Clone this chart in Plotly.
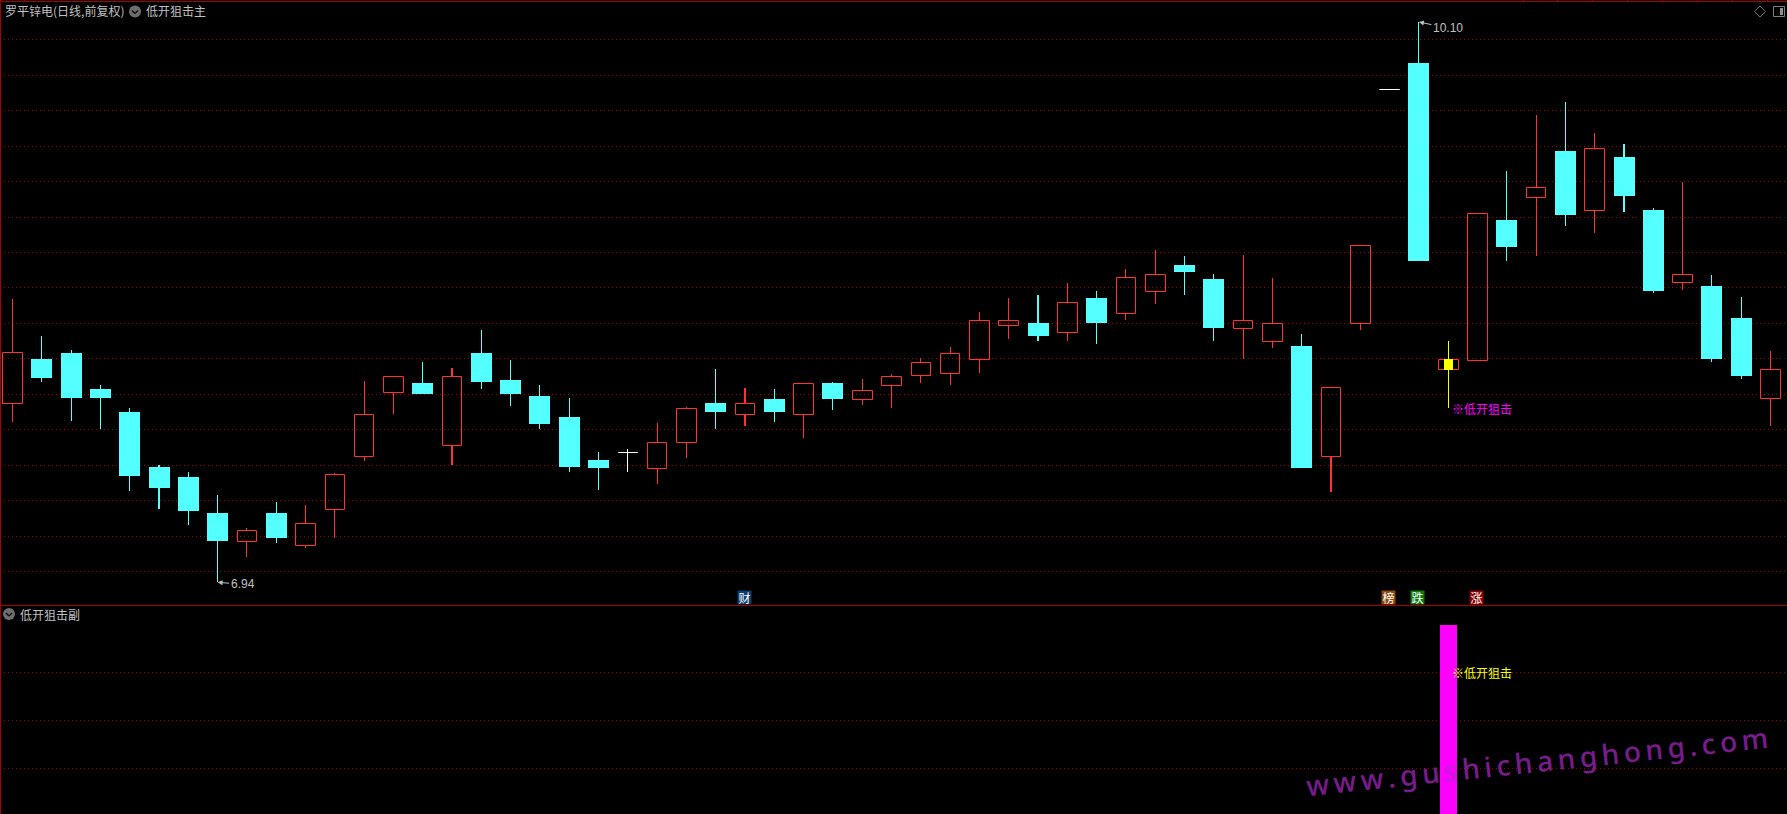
import plotly.graph_objects as go

# ---------- data (prices) ----------
opens = [7.947,8.199,8.233,8.03,7.90,7.59,7.534,7.331,7.169,7.331,7.146,7.349,7.648,8.009,8.064,7.71,8.233,8.081,7.991,7.872,7.63,7.673,7.581,7.727,7.951,7.885,7.974,7.885,8.064,7.97,8.049,8.105,8.116,8.195,8.387,8.402,8.348,8.543,8.455,8.579,8.729,8.65,8.37,8.297,8.273,7.648,8.401,9.72,9.869,8.139,8.19,8.983,9.109,9.372,9.036,9.339,9.04,8.63,8.611,8.43,7.975]
highs = [8.538,8.329,8.25,8.053,7.923,7.60,7.562,7.432,7.246,7.393,7.376,7.556,8.075,8.102,8.182,8.148,8.363,8.194,8.053,7.979,7.675,7.692,7.838,7.927,8.143,8.034,8.03,8.062,8.07,8.085,8.115,8.203,8.267,8.464,8.543,8.56,8.628,8.583,8.707,8.814,8.78,8.679,8.786,8.656,8.34,8.04,8.841,9.72,10.10,8.301,9.021,9.26,9.575,9.649,9.474,9.412,9.051,9.199,8.673,8.549,8.244]
lows = [7.846,8.071,7.851,7.806,7.455,7.353,7.263,6.94,7.083,7.161,7.133,7.191,7.624,7.889,8.002,7.601,8.03,7.934,7.804,7.562,7.46,7.562,7.496,7.643,7.804,7.821,7.844,7.755,7.912,7.94,7.923,8.064,8.053,8.12,8.312,8.301,8.301,8.284,8.419,8.509,8.56,8.301,8.199,8.261,7.584,7.449,8.363,9.72,8.752,7.925,8.19,8.752,8.782,8.949,8.91,9.028,8.571,8.588,8.182,8.092,7.821]
closes = [8.237,8.092,7.979,7.979,7.539,7.472,7.342,7.173,7.233,7.19,7.273,7.549,7.887,8.102,8.002,8.103,8.07,8.002,7.833,7.59,7.584,7.673,7.729,7.921,7.90,7.949,7.90,8.062,7.974,8.023,8.102,8.181,8.231,8.418,8.418,8.329,8.519,8.402,8.66,8.677,8.69,8.374,8.418,8.401,7.584,8.04,8.841,9.72,8.752,8.199,9.021,8.831,9.168,9.011,9.388,9.119,8.583,8.677,8.199,8.103,8.141]
signal_days = [49]
sub_values = [1]
price_ticks = [7.0,7.2,7.4,7.6,7.8,8.0,8.2,8.4,8.6,8.8,9.0,9.2,9.4,9.6,9.8,10.0]
sub_ticks = [0.25,0.5,0.75]
day_tags = [(25,"财","#0b3d6e"),(47,"榜","#8a4a10"),(48,"跌","#0a7a0a"),(50,"涨","#8b0000")]
title_main = "罗平锌电(日线,前复权)"
name_main = "低开狙击主"
name_sub = "低开狙击副"
signal_text = "※低开狙击"
high_label = "10.10"
low_label = "6.94"
watermark = "www.gushichanghong.com"

# ---------- styling ----------
W, H = 1787, 814
STEP = 29.3
PRICE_PER_PX = 0.00564
RED, CYAN, WHITE, YELLOW = "#ff3232", "#54ffff", "#ffffff", "#ffff00"
GRID, BORDER = "#a00000", "#a80000"
GREY = "#c0c0c0"
FONT = "Noto Sans CJK SC, Liberation Sans, sans-serif"
BODY_T = 21 / STEP
BODY_R = 19.6 / STEP
WICK = 0.1 / STEP

n = len(opens)
days = list(range(n))

def group(idx_fn):
    return [i for i in days if idx_fn(i)]

up = group(lambda i: closes[i] > opens[i])
down = group(lambda i: closes[i] < opens[i])
flat = group(lambda i: closes[i] == opens[i])

def wick_trace(idx, color):
    xs, ys, bases = [], [], []
    for i in idx:
        top, bot = max(opens[i], closes[i]), min(opens[i], closes[i])
        if highs[i] > top:
            xs.append(i); ys.append(highs[i] - top); bases.append(top)
        if lows[i] < bot:
            xs.append(i); ys.append(bot - lows[i]); bases.append(lows[i])
    return go.Bar(x=xs, y=ys, base=bases, width=WICK, marker=dict(color=color, line=dict(width=0)),
                  hoverinfo="skip", showlegend=False)

def body_trace(idx, fill, line_color, lw, width, nudge_x=0.0, nudge_y=0.0):
    return go.Bar(x=[i + nudge_x for i in idx], y=[abs(closes[i] - opens[i]) for i in idx],
                  base=[min(opens[i], closes[i]) + nudge_y for i in idx], width=width,
                  marker=dict(color=fill, line=dict(color=line_color, width=lw)),
                  hoverinfo="skip", showlegend=False)

fig = go.Figure()
plain_up = [i for i in up if i not in signal_days]
fig.add_trace(wick_trace(plain_up, RED))
fig.add_trace(wick_trace(down, CYAN))
fig.add_trace(wick_trace(flat, WHITE))
fig.add_trace(wick_trace(signal_days, YELLOW))
fig.add_trace(body_trace(up, "rgba(0,0,0,0)", RED, 1, BODY_R, 0.5 / STEP, -0.5 * PRICE_PER_PX))
fig.add_trace(body_trace(down, CYAN, CYAN, 0, BODY_T))
fig.add_trace(body_trace(flat, WHITE, WHITE, 1, BODY_R, 0.5 / STEP, -0.5 * PRICE_PER_PX))
fig.add_trace(body_trace(signal_days, YELLOW, YELLOW, 0, 9 / STEP))
fig.add_trace(go.Bar(x=signal_days, y=sub_values, base=0, width=17 / STEP, xaxis="x2", yaxis="y2",
                     marker=dict(color="#ff00ff", line=dict(width=0)), hoverinfo="skip", showlegend=False))

def px(x):
    return x / W
def py(y):
    return 1 - y / H

x_range = [-12.5 / STEP, (W - 12.5) / STEP]
ax_common = dict(range=x_range, showgrid=False, zeroline=False, showticklabels=False, ticks="", showline=False, fixedrange=True)
y_common = dict(showticklabels=False, ticks="", zeroline=False, showline=False, showgrid=True,
                gridcolor=GRID, gridwidth=1, griddash="1px,3px", fixedrange=True)

annots = []
def label(x, y, text, color=GREY, size=12, anchor="left"):
    annots.append(dict(xref="paper", yref="paper", x=px(x), y=py(y), text=text, showarrow=False,
                       xanchor=anchor, yanchor="middle", font=dict(family=FONT, size=size, color=color)))

label(3, 11, title_main)
label(144, 11, name_main)
label(18, 614, name_sub)

annots.append(dict(x=49, y=7.923, xref="x", yref="y", text=signal_text, showarrow=False, xanchor="left", xshift=2,
                   font=dict(family=FONT, size=12, color="#ff00ff")))
annots.append(dict(x=49, y=0.75, xref="x2", yref="y2", text=signal_text, showarrow=False, xanchor="left", xshift=2,
                   font=dict(family=FONT, size=12, color=YELLOW)))
hi_i = highs.index(max(highs))
lo_i = lows.index(min(lows))
annots.append(dict(x=hi_i, y=highs[hi_i], xref="x", yref="y", text=high_label, showarrow=True, ax=29, ay=6,
                   arrowhead=2, arrowsize=1, arrowwidth=1, arrowcolor=GREY, standoff=0,
                   font=dict(family="Liberation Sans", size=12, color=GREY)))
annots.append(dict(x=lo_i, y=lows[lo_i], xref="x", yref="y", text=low_label, showarrow=True, ax=25, ay=2,
                   arrowhead=2, arrowsize=1, arrowwidth=1, arrowcolor=GREY, standoff=0,
                   font=dict(family="Liberation Sans", size=12, color=GREY)))
for d, t, c in day_tags:
    annots.append(dict(x=d, y=py(597.5), xref="x", yref="paper", text=t, showarrow=False, bgcolor=c, borderpad=0,
                       xanchor="center", yanchor="middle", width=13, height=13, xshift=-1,
                       font=dict(family=FONT, size=12, color="#ffffff")))
annots.append(dict(xref="paper", yref="paper", x=px(1537), y=py(761), text="\u2006".join(watermark), showarrow=False,
                   textangle=-6, xanchor="center", yanchor="middle",
                   font=dict(family="Noto Sans", size=28, weight=500, color="rgba(255,40,220,0.45)",
                             shadow="0 0 1px #2a2ab0")))

shapes = []
def line(x0, y0, x1, y1, color=BORDER, w=1):
    shapes.append(dict(type="line", xref="paper", yref="paper", x0=px(x0), y0=py(y0), x1=px(x1), y1=py(y1),
                       line=dict(color=color, width=w), layer="above"))
line(0, 1.5, W, 1.5)
line(0.5, 0, 0.5, H)
line(0, 605.5, W, 605.5)
for tx in (24, 1523, 1557, 1592, 1627, 1662, 1697, 1732, 1767):
    line(tx + .5, 0, tx + .5, 1.5)

def icon(cx, cy):
    shapes.append(dict(type="circle", xref="paper", yref="paper", x0=px(cx - 6), x1=px(cx + 6), y0=py(cy - 6), y1=py(cy + 6),
                       fillcolor="#6e6e6e", line=dict(width=0), layer="above"))
    line(cx - 3, cy - 1, cx, cy + 2, "#101010", 1.5)
    line(cx, cy + 2, cx + 3, cy - 1, "#101010", 1.5)
icon(135, 11.5)
icon(9, 614)

# diamond and panel toggle, top right
line(1760, 6, 1765.5, 11.5, "#707070"); line(1765.5, 11.5, 1760, 17, "#707070")
line(1760, 17, 1754.5, 11.5, "#707070"); line(1754.5, 11.5, 1760, 6, "#707070")
shapes.append(dict(type="rect", xref="paper", yref="paper", x0=px(1773.5), x1=px(1784.5), y0=py(6.5), y1=py(16.5),
                   line=dict(color="#808080", width=1), layer="above"))
shapes.append(dict(type="rect", xref="paper", yref="paper", x0=px(1780), x1=px(1783), y0=py(8), y1=py(15),
                   fillcolor="#909090", line=dict(width=0), layer="above"))

fig.update_layout(
    width=W, height=H, autosize=False,
    margin=dict(l=0, r=0, t=0, b=0, pad=0),
    paper_bgcolor="#000000", plot_bgcolor="#000000",
    barmode="overlay", bargap=0, hovermode=False, showlegend=False,
    xaxis=dict(anchor="y", domain=[0, 1], **ax_common),
    xaxis2=dict(anchor="y2", domain=[0, 1], **ax_common),
    yaxis=dict(anchor="x", domain=[py(605), py(2)], range=[6.812, 10.213], tickvals=price_ticks, **y_common),
    yaxis2=dict(anchor="x2", domain=[0, py(606)], range=[(816 - 814) / 191, 1 + 19 / 191], tickvals=sub_ticks, **y_common),
    annotations=annots, shapes=shapes,
)

fig.write_html("out.html", config={"displayModeBar": False},
               post_script="document.body.style.margin='0';document.body.style.background='#000';document.documentElement.style.overflow='hidden';")
